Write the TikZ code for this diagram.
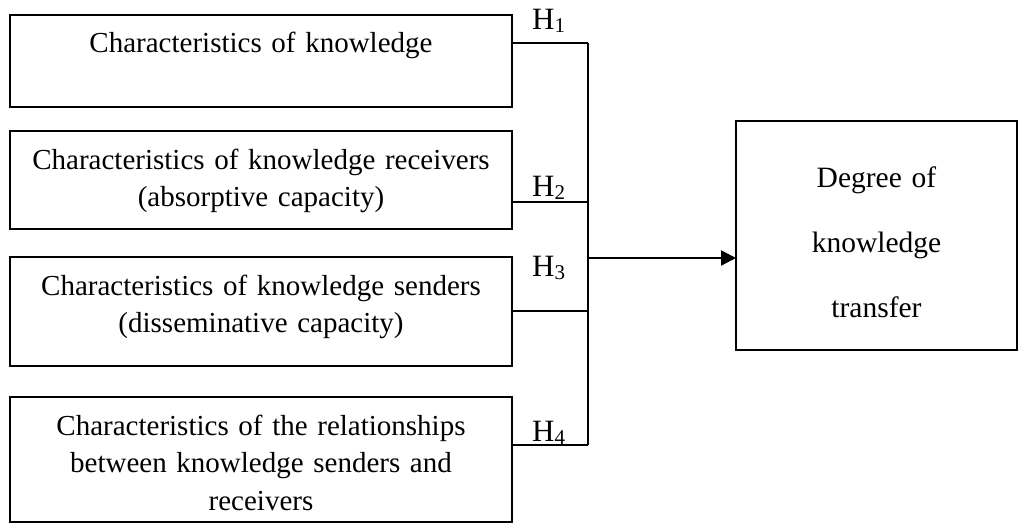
\documentclass[tikz,border=0pt]{standalone}
\usepackage{fontspec}
\setmainfont{Liberation Serif}
\usetikzlibrary{arrows.meta}

% hypothesis label: H with a lowered index
\newcommand{\hyplabel}[1]{H\raisebox{-3pt}{\fontsize{21}{21}\selectfont #1}}

\begin{document}
\begin{tikzpicture}[x=1pt,y=-1pt,
  factor/.style={draw, line width=1.3pt, inner sep=0pt, outer sep=0pt,
    text width=502pt, align=center, text height=38pt,
    font=\fontsize{29}{37.5}\selectfont},
  outcome/.style={draw, line width=1.3pt, inner sep=0pt, outer sep=0pt,
    text width=281pt, align=center, text height=66pt, text depth=163pt,
    font=\fontsize{29.5}{65}\selectfont},
  link/.style={line width=1.3pt},
  hyp/.style={anchor=base west, inner sep=0pt, font=\fontsize{31}{31}\selectfont},
  mainarrow/.style={line width=2.2pt, -{Triangle[length=15pt,width=15pt]}}]

  \useasboundingbox (0,0) rectangle (1019,524);

  % predictor boxes
  \node[factor, text depth=54pt, anchor=north west] (b1) at (10,15)
    {Characteristics of knowledge};
  \node[factor, text depth=60pt, anchor=north west] (b2) at (10,131)
    {Characteristics of knowledge receivers\\(absorptive capacity)};
  \node[factor, text depth=71pt, anchor=north west] (b3) at (10,257)
    {Characteristics of knowledge senders\\(disseminative capacity)};
  \node[factor, text depth=87pt, anchor=north west] (b4) at (10,397)
    {Characteristics of the relationships\\between knowledge senders and\\receivers};

  % outcome box
  \node[outcome, anchor=north west] (d) at (736,121)
    {Degree of\\knowledge\\transfer};

  % junctions on the collecting bus
  \coordinate (j1) at (588,43);
  \coordinate (j2) at (588,202);
  \coordinate (j3) at (588,311);
  \coordinate (j4) at (588,445);
  \coordinate (ja) at (588,258);

  \draw[link] (b1.east |- j1) -- (j1);
  \draw[link] (b2.east |- j2) -- (j2);
  \draw[link] (b3.east |- j3) -- (j3);
  \draw[link] (b4.east |- j4) -- (j4);
  \draw[link] (j1) -- (j4);

  \draw[mainarrow] (ja) -- (d.west |- ja);

  % hypothesis labels
  \node[hyp] (h1) at (532,30) {\hyplabel{1}};
  \node[hyp] (h2) at (532,196) {\hyplabel{2}};
  \node[hyp] (h3) at (532,276) {\hyplabel{3}};
  \node[hyp] (h4) at (532,441) {\hyplabel{4}};
\end{tikzpicture}
\end{document}
